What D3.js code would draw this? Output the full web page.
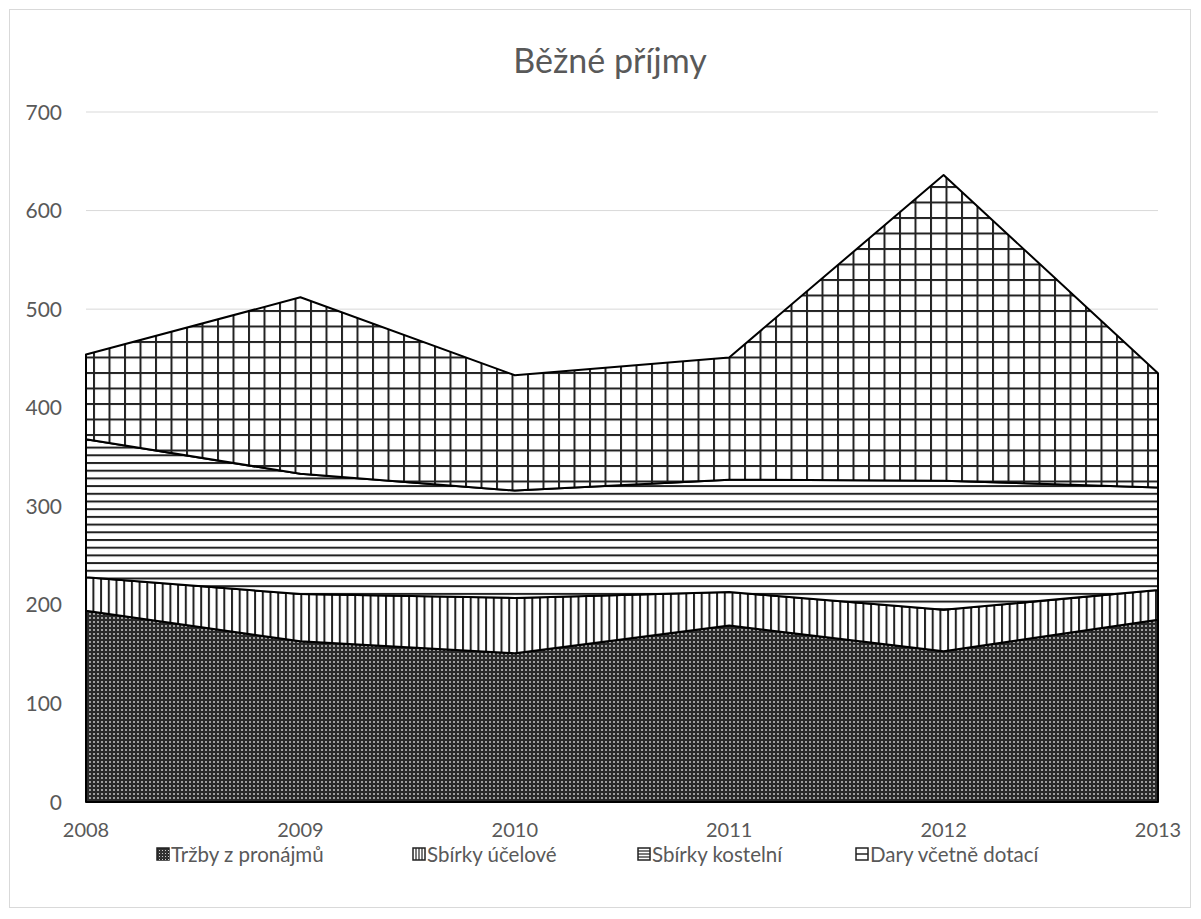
<!DOCTYPE html>
<html><head><meta charset="utf-8">
<script src="https://cdn.jsdelivr.net/npm/d3@7"></script>
<style>body{margin:0;background:#fff}svg{display:block}text{font-family:Lato,"Open Sans",sans-serif}</style>
</head><body>
<svg id="c" width="1201" height="919"></svg>
<script>
const years = ["2008","2009","2010","2011","2012","2013"];
const seriesNames = ["Tržby z pronájmů","Sbírky účelové","Sbírky kostelní","Dary včetně dotací"];
const trzby   = [194,163,151,179,153,185];
const ucelove = [34,48,56,34,42,30];
const kostelni= [140,122,109,114,131,104];
const dary    = [86,179,117,124,310,116];
const yTicks  = [0,100,200,300,400,500,600,700];

const svg = d3.select("#c");
const m={l:86,r:1158,t:112,b:802};
const x=d3.scalePoint().domain(years).range([m.l,m.r]);
const y=d3.scaleLinear().domain([0,700]).range([m.b,m.t]);

const defs=svg.append("defs");
// dotted dark
let p=defs.append("pattern").attr("id","p0").attr("patternUnits","userSpaceOnUse").attr("width",4).attr("height",4);
p.append("rect").attr("width",4).attr("height",4).attr("fill","#2a2a2a");
p.append("rect").attr("x",1).attr("y",1).attr("width",2).attr("height",2).attr("fill","#8a8a8a");
p.append("rect").attr("x",1.5).attr("y",1.5).attr("width",1).attr("height",1).attr("fill","#e0e0e0");
// vertical lines
p=defs.append("pattern").attr("id","p1").attr("patternUnits","userSpaceOnUse").attr("width",7.7).attr("height",8);
p.append("rect").attr("width",7.7).attr("height",8).attr("fill","#fff");
p.append("rect").attr("x",0).attr("width",2).attr("height",8).attr("fill","#222");
// horizontal lines
p=defs.append("pattern").attr("id","p2").attr("patternUnits","userSpaceOnUse").attr("width",8).attr("height",7.7);
p.append("rect").attr("width",8).attr("height",7.7).attr("fill","#fff");
p.append("rect").attr("y",0).attr("width",8).attr("height",2).attr("fill","#222");
// grid
p=defs.append("pattern").attr("id","p3").attr("patternUnits","userSpaceOnUse").attr("width",15.5).attr("height",15.5);
p.append("rect").attr("width",15.5).attr("height",15.5).attr("fill","#fff");
p.append("rect").attr("width",2).attr("height",15.5).attr("fill","#222");
p.append("rect").attr("width",15.5).attr("height",2).attr("fill","#222");

// frame
svg.append("rect").attr("x",9.5).attr("y",9.5).attr("width",1181).attr("height",898).attr("fill","#fff").attr("stroke","#d9d9d9");

// title
svg.append("text").attr("x",610).attr("y",73).attr("text-anchor","middle").attr("font-size",34).attr("fill","#595959").text("Běžné příjmy");

// gridlines
svg.append("g").selectAll("line").data(yTicks).join("line")
 .attr("x1",m.l).attr("x2",m.r).attr("y1",d=>y(d)).attr("y2",d=>y(d)).attr("stroke","#d9d9d9").attr("stroke-width",1);

// stack
const rows=years.map((yr,i)=>({year:yr,s0:trzby[i],s1:ucelove[i],s2:kostelni[i],s3:dary[i]}));
const stack=d3.stack().keys(["s0","s1","s2","s3"])(rows);
const area=d3.area().x(d=>x(d.data.year)).y0(d=>y(d[0])).y1(d=>y(d[1]));
svg.append("g").selectAll("path").data(stack).join("path")
 .attr("d",area).attr("fill",(d,i)=>`url(#p${i})`).attr("stroke","#000").attr("stroke-width",2).attr("stroke-linejoin","round");

// y axis labels
svg.append("g").selectAll("text").data(yTicks).join("text")
 .attr("x",62).attr("y",d=>y(d)).attr("dy","0.36em").attr("text-anchor","end").attr("font-size",21).attr("fill","#595959").text(d=>d);
// x labels
svg.append("g").selectAll("text").data(years).join("text")
 .attr("x",d=>x(d)).attr("y",837).attr("text-anchor","middle").attr("font-size",20).attr("fill","#595959").text(d=>d);

// legend
const legX=[157,413,638,856];
const lg=svg.append("g").selectAll("g").data(seriesNames).join("g").attr("transform",(d,i)=>`translate(${legX[i]},848)`);
lg.append("rect").attr("width",12).attr("height",12).attr("fill","#fff").attr("stroke","#222").attr("stroke-width",1.5);
lg.each(function(d,i){
  const g=d3.select(this);
  if(i===0){g.select("rect").attr("fill","#333");
    for(let a=2;a<12;a+=3)for(let b=2;b<12;b+=3)g.append("rect").attr("x",a).attr("y",b).attr("width",1).attr("height",1).attr("fill","#ccc");}
  if(i===1){for(let a=3;a<12;a+=3)g.append("line").attr("x1",a).attr("x2",a).attr("y1",0).attr("y2",12).attr("stroke","#222").attr("stroke-width",1.2);}
  if(i===2){for(let a=3;a<12;a+=3)g.append("line").attr("y1",a).attr("y2",a).attr("x1",0).attr("x2",12).attr("stroke","#222").attr("stroke-width",1.2);}
  if(i===3){g.append("line").attr("y1",6).attr("y2",6).attr("x1",0).attr("x2",12).attr("stroke","#222").attr("stroke-width",1.5);}
});
lg.append("text").attr("x",14).attr("y",14).attr("font-size",20.5).attr("fill","#595959").text(d=>d);
</script>
</body></html>
